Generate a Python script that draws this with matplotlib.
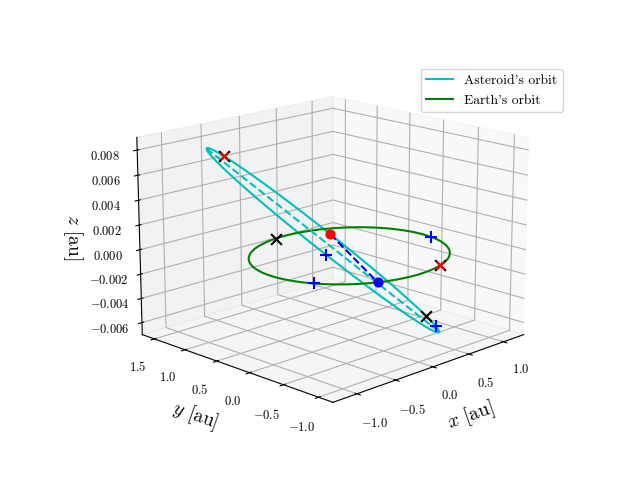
import numpy as np
import matplotlib
matplotlib.use("Agg")
import matplotlib.pyplot as plt

plt.rcParams["mathtext.fontset"] = "cm"
plt.rcParams["font.family"] = "serif"
plt.rcParams["font.serif"] = ["cmr10", "DejaVu Serif"]
plt.rcParams["axes.formatter.use_mathtext"] = True
plt.rcParams["axes.unicode_minus"] = True

# asteroid orbit: endpoints of major axis and semi-minor vector
ast_end1 = [-0.97, 1.02, 0.0085]
ast_end2 = [0.68, -0.6, -0.0066]
ast_minor = [0.1, 0.1, 0.0006]
earth_r = 1.0

# marker positions on curves (degrees on Earth orbit, t along asteroid major axis)
earth_plus_ang = [208, -9]
earth_x_ang = [97, -70]
ast_plus_t_upper = [0.97]
ast_plus_t_lower = [0.02]
ast_x_t = [0.88, -0.86]
ast_red_dot_t = 0.04
earth_blue_dot_ang = 243

e1 = np.array(ast_end1); e2 = np.array(ast_end2); mn = np.array(ast_minor)
c = (e1 + e2) / 2; mj = (e2 - e1) / 2

def ast(t, side=1):
    s = np.sqrt(max(0, 1 - t*t))
    return c + t*mj + side*s*mn

def earth(a):
    r = np.radians(a)
    return np.array([earth_r*np.cos(r), earth_r*np.sin(r), 0.0])

fig = plt.figure(figsize=(6.4, 4.8), dpi=100)
ax = fig.add_subplot(111, projection="3d")
u = np.linspace(0, 2*np.pi, 400)
A = c[:, None] + np.outer(mj, np.cos(u)) + np.outer(mn, np.sin(u))
ax.plot(A[0], A[1], A[2], color="c", label="Asteroid's orbit")
ax.plot(earth_r*np.cos(u), earth_r*np.sin(u), 0*u, color="g", label="Earth's orbit")
ax.plot([e1[0], e2[0]], [e1[1], e2[1]], [e1[2], e2[2]], "c--")
rd = ast(ast_red_dot_t)
bd = earth(earth_blue_dot_ang)
ax.plot([rd[0], bd[0]], [rd[1], bd[1]], [rd[2], bd[2]], "b--")
ax.scatter(*rd, color="r", s=40, depthshade=False)
ax.scatter(*bd, color="b", s=40, depthshade=False)
for a in earth_plus_ang:
    ax.scatter(*earth(a), marker="+", color="b", s=70, depthshade=False)
for t in ast_plus_t_upper:
    ax.scatter(*ast(t), marker="+", color="b", s=70, depthshade=False)
for t in ast_plus_t_lower:
    ax.scatter(*ast(t, -1), marker="+", color="b", s=70, depthshade=False)
for a in earth_x_ang:
    ax.scatter(*earth(a), marker="x", color="k", s=60, depthshade=False)
for t in ast_x_t:
    ax.scatter(*ast(t), marker="x", color="k", s=60, depthshade=False)
ax.scatter(*ast(ast_x_t[1]), marker="x", color="r", s=30, depthshade=False)
ax.scatter(*earth(earth_x_ang[1]), marker="x", color="r", s=30, depthshade=False)

ax.view_init(elev=16, azim=-135)
ax.set_xlim(-1.3, 1.3); ax.set_ylim(-1.2, 1.7); ax.set_zlim(-0.007, 0.009)
ax.set_box_aspect(None, zoom=1.15)
ax.set_xticks([-1.0, -0.5, 0.0, 0.5, 1.0])
ax.set_yticks([-1.0, -0.5, 0.0, 0.5, 1.0, 1.5])
ax.set_zticks([-0.006, -0.004, -0.002, 0.0, 0.002, 0.004, 0.006, 0.008])
ax.set_xlabel("$x$ [au]", fontsize=14)
ax.set_ylabel("$y$ [au]", fontsize=14)
ax.zaxis.set_rotate_label(False)
ax.set_zlabel("$z$ [au]", fontsize=14, labelpad=3, rotation=-90)
ax.tick_params(labelsize=9)
ax.legend(loc="upper right", fontsize=9.8, bbox_to_anchor=(0.89, 0.87),
          bbox_transform=fig.transFigure)
fig.savefig("out.png", dpi=100)
